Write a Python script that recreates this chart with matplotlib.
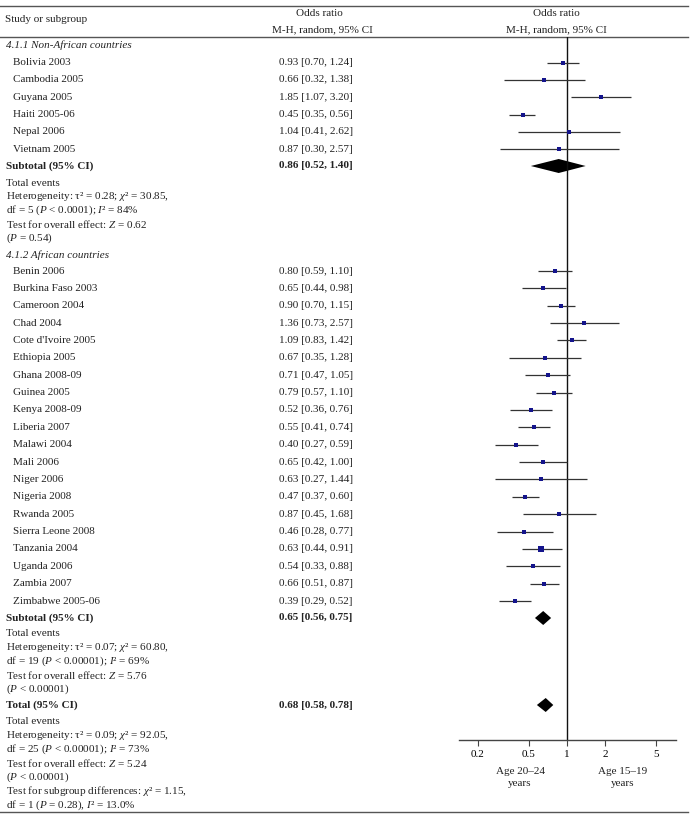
import matplotlib
matplotlib.use('Agg')
import matplotlib.pyplot as plt

# Estilo
plt.rcParams['font.family'] = 'Liberation Serif'
plt.rcParams['font.size'] = 8.0
plt.rcParams['mathtext.fontset'] = 'custom'
plt.rcParams['mathtext.it'] = 'Liberation Serif:italic'
plt.rcParams['mathtext.rm'] = 'Liberation Serif'
plt.rcParams['text.color'] = '#222222'

# Dados
grupo1_nomes = ['Bolivia 2003', 'Cambodia 2005', 'Guyana 2005', 'Haiti 2005-06',
                'Nepal 2006', 'Vietnam 2005']
grupo1_or = [0.93, 0.66, 1.85, 0.45, 1.04, 0.87]
grupo1_lo = [0.70, 0.32, 1.07, 0.35, 0.41, 0.30]
grupo1_hi = [1.24, 1.38, 3.20, 0.56, 2.62, 2.57]
grupo1_peso = [3, 3, 3, 3.5, 2.5, 2.5]

grupo2_nomes = ['Benin 2006', 'Burkina Faso 2003', 'Cameroon 2004', 'Chad 2004',
                "Cote d'Ivoire 2005", 'Ethiopia 2005', 'Ghana 2008-09', 'Guinea 2005',
                'Kenya 2008-09', 'Liberia 2007', 'Malawi 2004', 'Mali 2006',
                'Niger 2006', 'Nigeria 2008', 'Rwanda 2005', 'Sierra Leone 2008',
                'Tanzania 2004', 'Uganda 2006', 'Zambia 2007', 'Zimbabwe 2005-06']
grupo2_or = [0.80, 0.65, 0.90, 1.36, 1.09, 0.67, 0.71, 0.79, 0.52, 0.55,
             0.40, 0.65, 0.63, 0.47, 0.87, 0.46, 0.63, 0.54, 0.66, 0.39]
grupo2_lo = [0.59, 0.44, 0.70, 0.73, 0.83, 0.35, 0.47, 0.57, 0.36, 0.41,
             0.27, 0.42, 0.27, 0.37, 0.45, 0.28, 0.44, 0.33, 0.51, 0.29]
grupo2_hi = [1.10, 0.98, 1.15, 2.57, 1.42, 1.28, 1.05, 1.10, 0.76, 0.74,
             0.59, 1.00, 1.44, 0.60, 1.68, 0.77, 0.91, 0.88, 0.87, 0.52]
grupo2_peso = [3.5, 3.5, 3.5, 3, 3.5, 2, 3.5, 3.5, 3, 3.5,
               3.5, 2.5, 2, 3, 2, 3, 4, 2.5, 3.5, 2.5]

# subtotal 1, subtotal 2, total
resumo_or = [0.86, 0.65, 0.68]
resumo_lo = [0.52, 0.56, 0.58]
resumo_hi = [1.40, 0.75, 0.78]

stats1 = ['Total events',
          'Heterogeneity: τ² = 0.28; $\\chi$² = 30.85,',
          'df = 5 ($P$ < 0.0001); $I$² = 84%',
          'Test for overall effect: $Z$ = 0.62',
          '($P$ = 0.54)']
stats2 = ['Total events',
          'Heterogeneity: τ² = 0.07; $\\chi$² = 60.80,',
          'df = 19 ($P$ < 0.00001); $I$² = 69%',
          'Test for overall effect: $Z$ = 5.76',
          '($P$ < 0.00001)']
stats3 = ['Total events',
          'Heterogeneity: τ² = 0.09; $\\chi$² = 92.05,',
          'df = 25 ($P$ < 0.00001); $I$² = 73%',
          'Test for overall effect: $Z$ = 5.24',
          '($P$ < 0.00001)',
          'Test for subgroup differences: $\\chi$² = 1.15,',
          'df = 1 ($P$ = 0.28), $I$² = 13.0%']

ticks = [0.2, 0.5, 1, 2, 5]
tick_labels = ['0.2', '0.5', '1', '2', '5']

# Layout (posições em pixels, y de cima para baixo)
W, H = 695, 819
passo = 17.37
passo_txt = 13.8
y_g1 = [62.5 + i * passo for i in range(len(grupo1_nomes))]
y_sub1 = 166
y_st1 = [183 + i * passo_txt for i in range(len(stats1))]
y_g2 = [271 + i * passo for i in range(len(grupo2_nomes))]
y_sub2 = 618
y_st2 = [634 + i * passo_txt for i in range(len(stats2))]
y_tot = 705
y_st3 = [722 + i * passo_txt for i in range(len(stats3))]
y_resumo = [y_sub1, y_sub2, y_tot]

fig = plt.figure(figsize=(W / 100, H / 100), dpi=100)

# eixo de fundo para textos e linhas
bg = fig.add_axes([0, 0, 1, 1])
bg.set_xlim(0, W)
bg.set_ylim(H, 0)
bg.axis('off')

cor_linha = '#555555'
for yy in [6, 37, 812]:
    bg.plot([0, 688], [yy, yy], color=cor_linha, lw=1.0)

bg.text(5, 20, 'Study or subgroup', va='center', ha='left')
bg.text(319, 13, 'Odds ratio', va='center', ha='center')
bg.text(322, 30, 'M-H, random, 95% CI', va='center', ha='center')
bg.text(556, 13, 'Odds ratio', va='center', ha='center')
bg.text(556, 30, 'M-H, random, 95% CI', va='center', ha='center')

bg.text(6, 45, '4.1.1 Non-African countries', style='italic', va='center')
bg.text(6, 255, '4.1.2 African countries', style='italic', va='center')

def fmt(o, l, h):
    return f'{o:.2f} [{l:.2f}, {h:.2f}]'

for nome, y, o, l, h in zip(grupo1_nomes, y_g1, grupo1_or, grupo1_lo, grupo1_hi):
    bg.text(13, y, nome, va='center')
    bg.text(279, y, fmt(o, l, h), va='center')
for nome, y, o, l, h in zip(grupo2_nomes, y_g2, grupo2_or, grupo2_lo, grupo2_hi):
    bg.text(13, y, nome, va='center')
    bg.text(279, y, fmt(o, l, h), va='center')

for rot, y, o, l, h in zip(['Subtotal (95% CI)', 'Subtotal (95% CI)', 'Total (95% CI)'],
                           y_resumo, resumo_or, resumo_lo, resumo_hi):
    bg.text(6, y, rot, va='center', weight='bold')
    bg.text(279, y, fmt(o, l, h), va='center', weight='bold')

for linhas, ys in [(stats1, y_st1), (stats2, y_st2), (stats3, y_st3)]:
    for t, y in zip(linhas, ys):
        bg.text(6, y, t, va='center')

# eixo do forest plot
x0, x1, yt, yb = 459, 676, 37, 740
ax = fig.add_axes([x0 / W, 1 - yb / H, (x1 - x0) / W, (yb - yt) / H])
ax.set_xscale('log')
ax.set_xlim(0.142, 7.16)
ax.set_ylim(yb, yt)
ax.patch.set_alpha(0)
for s in ['top', 'left', 'right']:
    ax.spines[s].set_visible(False)
ax.spines['bottom'].set_color('#444444')
ax.spines['bottom'].set_linewidth(1.0)
ax.set_yticks([])
ax.set_xticks(ticks)
ax.set_xticklabels(tick_labels)
ax.minorticks_off()
ax.tick_params(axis='x', direction='out', length=4, width=0.8, color='#444444',
               pad=3, labelsize=8.0)
ax.axvline(1, color='#111111', lw=1.0)

cor_ic = '#333333'
cor_q = '#14148c'
for ys, o_, l_, h_, p_ in [(y_g1, grupo1_or, grupo1_lo, grupo1_hi, grupo1_peso),
                           (y_g2, grupo2_or, grupo2_lo, grupo2_hi, grupo2_peso)]:
    ax.hlines(ys, l_, h_, color=cor_ic, lw=0.9)
    for y, o, p in zip(ys, o_, p_):
        # lado do quadrado em px, convertido para pontos
        ax.plot(o, y, marker='s', markersize=(1.2 + p) * 0.72, color=cor_q,
                markeredgewidth=0, linestyle='none')

meia = 7
for y, o, l, h in zip(y_resumo, resumo_or, resumo_lo, resumo_hi):
    ax.fill([l, o, h, o], [y, y - meia, y, y + meia], color='black', lw=0)

bg.text(520, 771, 'Age 20\u201324', ha='center', va='center')
bg.text(520, 784, 'years', ha='center', va='center')
bg.text(623, 771, 'Age 15\u201319', ha='center', va='center')
bg.text(623, 784, 'years', ha='center', va='center')

plt.savefig('out.png', dpi=100)
